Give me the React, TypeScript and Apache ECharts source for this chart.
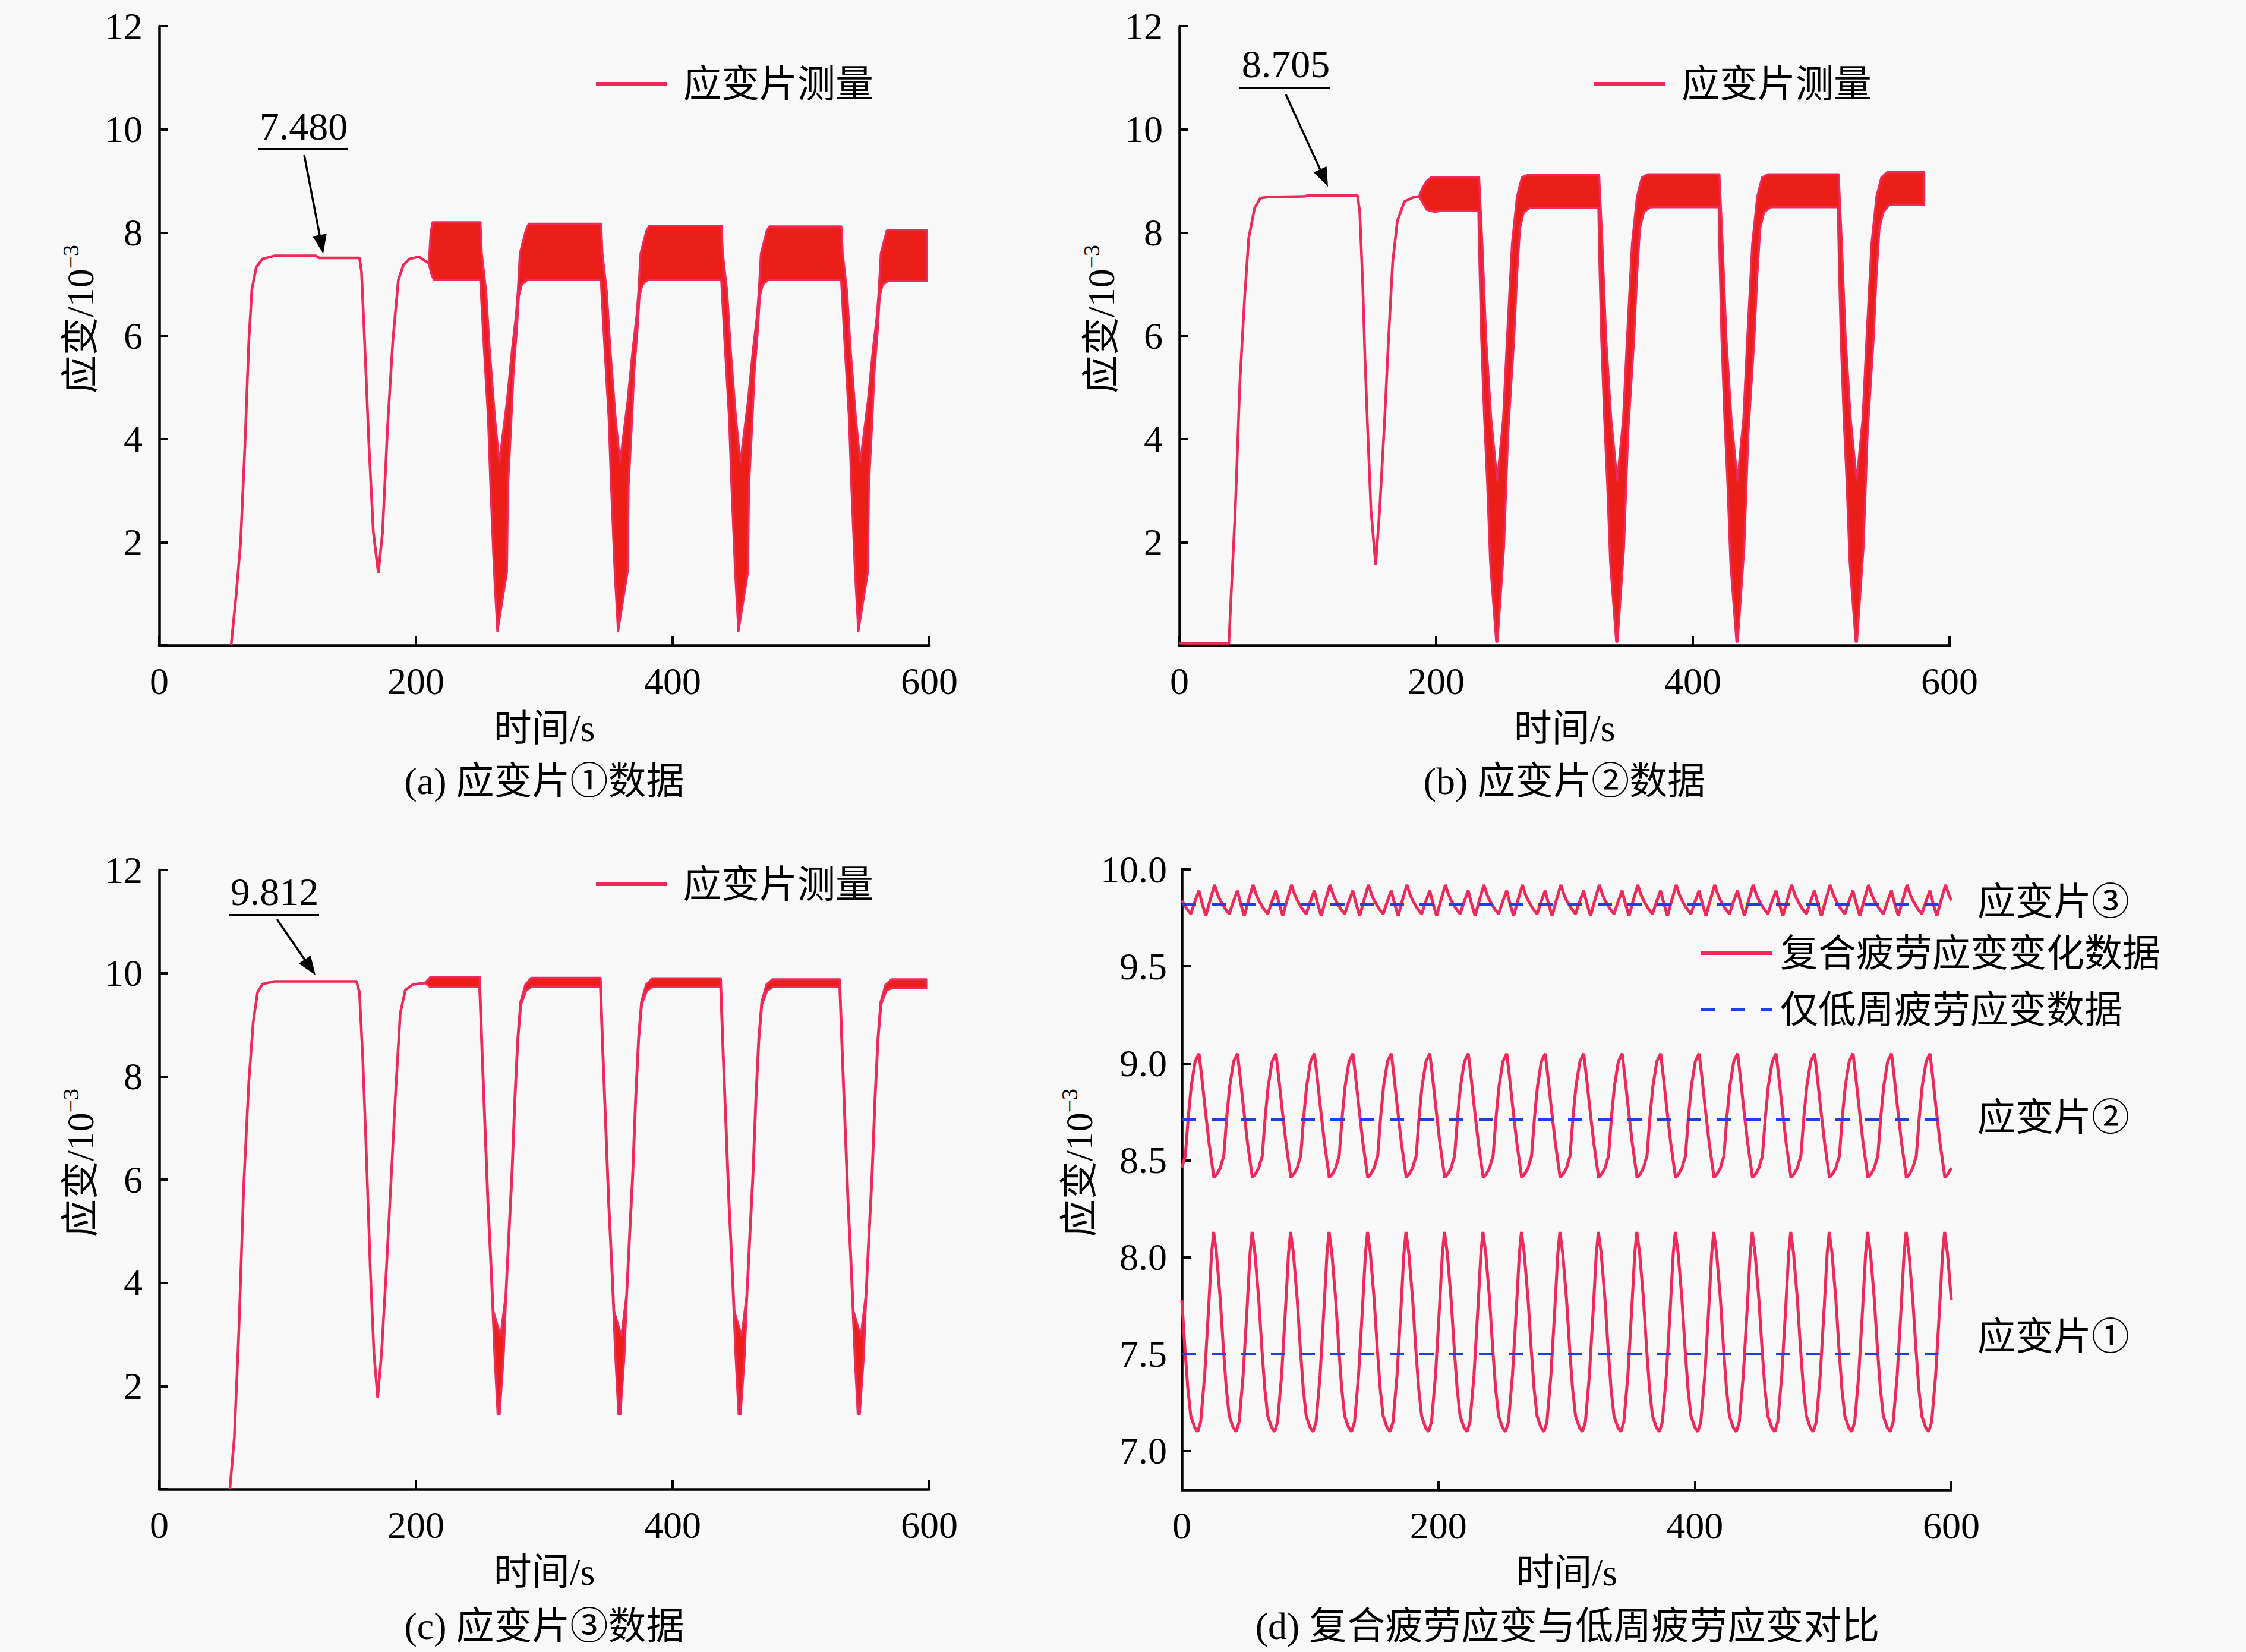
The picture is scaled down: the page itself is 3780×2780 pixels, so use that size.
import React, { useEffect, useRef } from "react";
import * as echarts from "echarts";

const FONT = '"Liberation Serif", "Noto Sans CJK SC", serif';
const LINE_COLOR = "#ee2a5a";
const BAND_COLOR = "#ec1f18";
const DASH_COLOR = "#1d3fe6";
const BG = "#f8f8f8";

// ---------- axes ----------
const xTicks = [0, 200, 400, 600];
const yTicksABC = [0, 2, 4, 6, 8, 10, 12];
const yTicksD = [7.0, 7.5, 8.0, 8.5, 9.0, 9.5, 10.0];

// ---------- panel (a) strain gauge 1 ----------
const aLineT = [56, 60, 63.4, 66.8, 69.8, 72.2, 75.6, 80.5, 90, 122, 124.4, 156, 157.6, 160, 163.4, 166.8, 170.7, 174, 178, 182, 186.3, 190.2, 195, 202.4, 206, 210];
const aLineV = [0, 1.0, 2.0, 3.9, 5.9, 6.9, 7.33, 7.49, 7.55, 7.55, 7.51, 7.51, 7.24, 5.9, 3.87, 2.2, 1.4, 2.2, 4.28, 5.9, 7.08, 7.37, 7.49, 7.53, 7.47, 7.40];
const aHeadUpT = [210, 211.5, 213];
const aHeadUpV = [7.40, 8.0, 8.20];
const aHeadLowT = [210, 212, 214];
const aHeadLowV = [7.40, 7.2, 7.08];
const aSegTop = [8.20, 8.17, 8.13, 8.12, 8.05];
const aSegBot = [7.08, 7.08, 7.08, 7.08, 7.06];
const aDipCenters = [263.8, 357.8, 451.6, 545.0];
const aDipUpDt = [-12.5, -9.1, -6.3, -2.2, 1.2, 7.1, 11, 14.1, 15.6, 17.2, 21.8];
const aDipUpV = [7.6, 6.86, 5.72, 4.40, 3.55, 4.73, 5.72, 6.39, 6.86, 7.6, 8.04];
const aDipLowDt = [-11, -7.6, -5.7, -2.9, -0.3, 7.1, 7.9, 10.2, 12.2, 14.8, 16.4, 18.7];
const aDipLowV = [5.84, 4.40, 3.08, 1.42, 0.27, 1.42, 3.08, 4.18, 5.28, 6.11, 6.77, 6.99];
const aEdges = [-13.5, 24, -13.7, 23]; // upper end, upper restart, lower end, lower restart (s from dip)
const aEnd = 598;

// ---------- panel (b) strain gauge 2 ----------
const bLineT = [0, 38.5, 40.3, 43.5, 47.1, 50.8, 54, 58.6, 63.2, 70, 97.5, 100, 138.7, 140.5, 142.8, 144.5, 146.5, 149.2, 152.9, 156, 159.7, 162.9, 166.1, 169.8, 175.3, 182.2, 186.7];
const bLineV = [0.04, 0.04, 0.99, 2.63, 5.10, 6.75, 7.90, 8.48, 8.67, 8.69, 8.70, 8.72, 8.72, 8.40, 7.00, 5.60, 4.28, 2.63, 1.56, 2.63, 4.28, 5.93, 7.41, 8.23, 8.60, 8.68, 8.70];
const bHeadUpT = [186.7, 189, 192.7, 196];
const bHeadUpV = [8.70, 8.85, 9.0, 9.07];
const bHeadLowT = [186.7, 189, 192.7, 198.6, 205];
const bHeadLowV = [8.70, 8.6, 8.44, 8.40, 8.42];
const bSegTop = [9.07, 9.12, 9.13, 9.13, 9.17];
const bSegBot = [8.42, 8.48, 8.49, 8.49, 8.54];
const bDipCenters = [247.3, 340.8, 434.5, 527.4];
const bDipUpDt = [-11.3, -8.3, -4.4, 0.3, 4.9, 7.9, 11.8, 15.7, 19.5];
const bDipUpV = [7.78, 5.93, 4.39, 3.2, 4.39, 5.93, 7.78, 8.70, 9.07];
const bDipLowDt = [-13.6, -12.1, -9.8, -7.5, -5.2, -0.5, 0.5, 5.6, 8.7, 13.4, 15.7, 18, 21];
const bDipLowV = [7.47, 5.93, 4.39, 3.15, 1.61, 0.07, 0.07, 1.91, 4.07, 5.93, 7.16, 8.08, 8.39];
const bEdges = [-13.8, 24, -14.4, 26];
const bEnd = 580.3;

// ---------- panel (c) strain gauge 3 ----------
const cLineT = [55, 58.5, 62, 65.9, 69.8, 73.2, 76.6, 80.5, 90, 153.7, 156, 158.5, 161, 164.4, 167.3, 170.2, 173.2, 177, 180.5, 183.9, 187.8, 191.7, 197.6, 207];
const cLineV = [0, 1.0, 3.05, 5.93, 7.9, 9.05, 9.63, 9.79, 9.84, 9.84, 9.63, 8.4, 6.75, 4.28, 2.63, 1.77, 2.63, 4.28, 5.93, 7.57, 9.22, 9.67, 9.78, 9.81];
const cHeadUpT = [207, 211];
const cHeadUpV = [9.81, 9.92];
const cHeadLowT = [207, 211];
const cHeadLowV = [9.81, 9.73];
const cSegTop = [9.92, 9.91, 9.90, 9.88, 9.88];
const cSegBot = [9.73, 9.74, 9.73, 9.73, 9.71];
const cDipCenters = [264.4, 358.5, 452.2, 545.0];
const cDipUpDt = [-12.5, -10.2, -7.9, -5.6, -4.0, 1.6, 5.4, 7.7, 10.1, 12.4, 14.7, 17.0, 20.9];
const cDipUpV = [8.44, 6.97, 5.50, 4.33, 3.44, 2.97, 3.74, 4.92, 6.09, 7.56, 8.73, 9.44, 9.78];
const cDipLowDt = [-13.1, -10.8, -8.5, -6.2, -4.6, -3.1, -0.7, 0.8, 3.9, 5.6, 8.3, 10.7, 13.0, 15.3, 17.6, 21.5];
const cDipLowV = [8.44, 6.97, 5.50, 4.33, 3.44, 2.57, 1.45, 1.45, 2.57, 3.6, 4.92, 6.09, 7.56, 8.73, 9.40, 9.66];
const cEdges = [-14.6, 25.5, -15, 26];
const cEnd = 597.6;

// ---------- panel (d) one measured 30 s cycle of each gauge ----------
const dCycles = 20;
const dPeriod = 30;
const g1CycleT = [0, 2.4, 4.7, 7.0, 10.1, 12.4, 14.7, 17.8, 20.9, 23.2, 24.8, 27.0];
const g1CycleV = [7.78, 7.53, 7.32, 7.18, 7.12, 7.10, 7.15, 7.39, 7.74, 8.02, 8.13, 8.02];
const g2CycleT = [0, 1.2, 2.7, 5.0, 7.3, 10.4, 13.4, 15.5, 18.1, 21.2, 25.0, 27.5];
const g2CycleV = [8.46, 8.49, 8.52, 8.72, 8.88, 9.01, 9.05, 8.93, 8.77, 8.59, 8.41, 8.43];
const g3CycleT = [0, 3.5, 7.0, 10.0, 13.3, 16.0, 18.7, 22.0, 25.5, 28.0];
const g3CycleV = [9.84, 9.80, 9.77, 9.83, 9.89, 9.82, 9.76, 9.84, 9.92, 9.87];
const lowCycleLevels = [7.50, 8.71, 9.82];
const lowCycleSpan = [0, 590];

// ---------- helpers ----------
function zip(t: number[], v: number[]) {
  return t.map((x, i) => [x, v[i]]);
}

function buildBand(
  headUpT: number[], headUpV: number[], headLowT: number[], headLowV: number[],
  segTop: number[], segBot: number[], centers: number[],
  upDt: number[], upV: number[], lowDt: number[], lowV: number[],
  edges: number[], tEnd: number
) {
  const up = zip(headUpT, headUpV);
  const lo = zip(headLowT, headLowV);
  const n = centers.length;
  for (let i = 0; i <= n; i++) {
    if (i > 0) {
      const c = centers[i - 1];
      up.push([c + edges[1], segTop[i]]);
      lo.push([c + edges[3], segBot[i]]);
    }
    if (i < n) {
      const c = centers[i];
      up.push([c + edges[0], segTop[i]]);
      lo.push([c + edges[2], segBot[i]]);
      upDt.forEach((d, k) => up.push([c + d, upV[k]]));
      lowDt.forEach((d, k) => lo.push([c + d, lowV[k]]));
    } else {
      up.push([tEnd, segTop[n]]);
      lo.push([tEnd, segBot[n]]);
    }
  }
  return { up, lo };
}

function repeatCycle(T: number[], V: number[]) {
  const out: number[][] = [];
  for (let k = 0; k < dCycles; k++) T.forEach((t, i) => out.push([k * dPeriod + t, V[i]]));
  out.push([dCycles * dPeriod, V[0]]);
  return out;
}

function txt(x: number, y: number, text: string, align = "center", size = 64) {
  return {
    type: "text",
    x,
    y,
    silent: true,
    style: {
      text,
      fontSize: size,
      fontFamily: FONT,
      fill: "#000",
      align,
      verticalAlign: "middle",
      textAlign: align,
      textVerticalAlign: "middle",
    },
  };
}

function arrow(x1: number, y1: number, x2: number, y2: number) {
  const dx = x2 - x1, dy = y2 - y1;
  const len = Math.hypot(dx, dy);
  const ux = dx / len, uy = dy / len;
  const hl = 32, hw = 12;
  const bx = x2 - ux * hl, by = y2 - uy * hl;
  return [
    { type: "line", silent: true, shape: { x1, y1, x2: bx, y2: by }, style: { stroke: "#000", lineWidth: 3.5 } },
    {
      type: "polygon",
      silent: true,
      shape: { points: [[x2, y2], [bx - uy * hw, by + ux * hw], [bx + uy * hw, by - ux * hw]] },
      style: { fill: "#000" },
    },
  ];
}

function annotation(label: string, cx: number, cy: number, ulx1: number, ulx2: number, uly: number, ax1: number, ay1: number, ax2: number, ay2: number) {
  return [
    txt(cx, cy, label, "center", 66),
    { type: "line", silent: true, shape: { x1: ulx1, y1: uly, x2: ulx2, y2: uly }, style: { stroke: "#000", lineWidth: 4 } },
    ...arrow(ax1, ay1, ax2, ay2),
  ];
}

const axisLineStyle = { color: "#000", width: 4.5 };
const labelStyle = { fontSize: 64, fontFamily: FONT, color: "#000" };
const yName = "{a|应变/10}{b|−3}";
const yNameStyle = {
  color: "#000",
  fontFamily: FONT,
  padding: [0, 0, 0, 56],
  rich: {
    a: { fontSize: 64, fontFamily: FONT, lineHeight: 70, color: "#000" },
    b: { fontSize: 38, fontFamily: FONT, lineHeight: 38, verticalAlign: "top", color: "#000" },
  },
};

function xAxisCfg(gridIndex: number) {
  return {
    type: "value",
    gridIndex,
    min: xTicks[0],
    max: xTicks[xTicks.length - 1],
    interval: xTicks[1] - xTicks[0],
    name: "时间/s",
    nameLocation: "middle",
    nameGap: 104,
    nameTextStyle: { ...labelStyle, lineHeight: 70 },
    axisLine: { lineStyle: axisLineStyle },
    axisTick: { inside: true, length: 15, lineStyle: { color: "#000", width: 4 } },
    axisLabel: { ...labelStyle, margin: 28 },
    splitLine: { show: false },
  };
}

function yAxisCfgABC(gridIndex: number, nameGap: number) {
  return {
    type: "value",
    gridIndex,
    min: yTicksABC[0],
    max: yTicksABC[yTicksABC.length - 1],
    interval: yTicksABC[1] - yTicksABC[0],
    name: yName,
    nameLocation: "middle",
    nameGap,
    nameTextStyle: yNameStyle,
    axisLine: { lineStyle: axisLineStyle },
    axisTick: { inside: true, length: 15, lineStyle: { color: "#000", width: 4 } },
    axisLabel: { ...labelStyle, margin: 28, formatter: (v: number) => (v === 0 ? "" : String(v)) },
    splitLine: { show: false },
  };
}

function bandSeries(idx: number, band: { up: number[][]; lo: number[][] }) {
  return {
    type: "custom",
    xAxisIndex: idx,
    yAxisIndex: idx,
    silent: true,
    z: 2,
    data: [[300, 6]],
    encode: { x: 0, y: 1 },
    renderItem: (_params: any, api: any) => {
      const pts = band.up.map((p) => api.coord(p)).concat(band.lo.slice().reverse().map((p) => api.coord(p)));
      return {
        type: "polygon",
        shape: { points: pts },
        style: { fill: BAND_COLOR, stroke: LINE_COLOR, lineWidth: 3.5, lineJoin: "round" },
      };
    },
  };
}

function lineSeries(idx: number, name: string, data: number[][], width = 4.5) {
  return {
    type: "line",
    name,
    xAxisIndex: idx,
    yAxisIndex: idx,
    data,
    symbol: "none",
    showSymbol: false,
    z: 3,
    lineStyle: { color: LINE_COLOR, width },
    itemStyle: { color: LINE_COLOR },
  };
}

function buildOption() {
  const aBand = buildBand(aHeadUpT, aHeadUpV, aHeadLowT, aHeadLowV, aSegTop, aSegBot, aDipCenters, aDipUpDt, aDipUpV, aDipLowDt, aDipLowV, aEdges, aEnd);
  const bBand = buildBand(bHeadUpT, bHeadUpV, bHeadLowT, bHeadLowV, bSegTop, bSegBot, bDipCenters, bDipUpDt, bDipUpV, bDipLowDt, bDipLowV, bEdges, bEnd);
  const cBand = buildBand(cHeadUpT, cHeadUpV, cHeadLowT, cHeadLowV, cSegTop, cSegBot, cDipCenters, cDipUpDt, cDipUpV, cDipLowDt, cDipLowV, cEdges, cEnd);

  const measName = "应变片测量";
  const compName = "复合疲劳应变变化数据";
  const lowName = "仅低周疲劳应变数据";

  const legendText = { ...labelStyle, lineHeight: 70 };
  const legendCommon = {
    padding: 0,
    itemHeight: 20,
    itemStyle: { opacity: 0, borderWidth: 0 },
    lineStyle: { width: 6 },
  };

  return {
    animation: false,
    backgroundColor: BG,
    textStyle: { fontFamily: FONT },
    grid: [
      { left: 268, top: 44, width: 1296, height: 1042 },
      { left: 1985, top: 44, width: 1296, height: 1042 },
      { left: 268, top: 1464, width: 1296, height: 1042 },
      { left: 1989, top: 1463, width: 1295, height: 1044 },
    ],
    xAxis: [xAxisCfg(0), xAxisCfg(1), xAxisCfg(2), xAxisCfg(3)],
    yAxis: [
      yAxisCfgABC(0, 98),
      yAxisCfgABC(1, 97),
      yAxisCfgABC(2, 98),
      {
        type: "value",
        gridIndex: 3,
        min: 6.8,
        max: 10,
        name: yName,
        nameLocation: "middle",
        nameGap: 129,
        nameTextStyle: yNameStyle,
        axisLine: { lineStyle: axisLineStyle },
        axisTick: { inside: true, length: 15, customValues: yTicksD, lineStyle: { color: "#000", width: 4 } },
        axisLabel: { ...labelStyle, margin: 25, customValues: yTicksD, formatter: (v: number) => v.toFixed(1) },
        splitLine: { show: false },
      },
    ],
    legend: [
      { ...legendCommon, data: [measName], left: 1000, top: 106, itemWidth: 119, textStyle: { ...legendText, padding: [0, 0, 0, 23] } },
      { ...legendCommon, data: [measName], left: 2680, top: 106, itemWidth: 119, textStyle: { ...legendText, padding: [0, 0, 0, 23] } },
      { ...legendCommon, data: [measName], left: 1000, top: 1453, itemWidth: 119, textStyle: { ...legendText, padding: [0, 0, 0, 23] } },
      {
        ...legendCommon,
        data: [compName, lowName],
        orient: "vertical",
        left: 2860,
        top: 1569,
        itemGap: 25,
        itemWidth: 120,
        textStyle: { ...legendText, padding: [0, 0, 0, 8] },
      },
    ],
    series: [
      bandSeries(0, aBand),
      lineSeries(0, measName, zip(aLineT, aLineV)),
      bandSeries(1, bBand),
      lineSeries(1, measName, zip(bLineT, bLineV)),
      bandSeries(2, cBand),
      lineSeries(2, measName, zip(cLineT, cLineV)),
      lineSeries(3, compName, repeatCycle(g1CycleT, g1CycleV), 5),
      lineSeries(3, compName, repeatCycle(g2CycleT, g2CycleV), 5),
      lineSeries(3, compName, repeatCycle(g3CycleT, g3CycleV), 5),
      ...lowCycleLevels.map((lv) => ({
        type: "line",
        name: lowName,
        xAxisIndex: 3,
        yAxisIndex: 3,
        data: lowCycleSpan.map((t) => [t, lv]),
        symbol: "none",
        showSymbol: false,
        z: 4,
        lineStyle: { color: DASH_COLOR, width: 4.5, type: [24, 26] },
        itemStyle: { color: DASH_COLOR },
      })),
    ],
    graphic: [
      ...annotation("7.480", 511, 212, 435, 586, 251, 512, 261, 544, 427),
      ...annotation("8.705", 2164, 107, 2086, 2238, 148, 2164, 159, 2235, 314),
      ...annotation("9.812", 462, 1500, 385, 537, 1540, 466, 1547, 531, 1641),
      txt(916, 1314, "(a) 应变片①数据"),
      txt(2633, 1314, "(b) 应变片②数据"),
      txt(916, 2736, "(c) 应变片③数据"),
      txt(2638, 2736, "(d) 复合疲劳应变与低周疲劳应变对比"),
      txt(3328, 1517, "应变片③", "left"),
      txt(3328, 1880, "应变片②", "left"),
      txt(3328, 2249, "应变片①", "left"),
    ],
  };
}

export default function App() {
  const ref = useRef<HTMLDivElement>(null);
  useEffect(() => {
    document.body.style.margin = "0";
    document.body.style.background = BG;
    const chart = echarts.init(ref.current as HTMLDivElement, null, { renderer: "svg", width: 3780, height: 2780 });
    chart.setOption(buildOption() as any);
    return () => chart.dispose();
  }, []);
  return <div ref={ref} style={{ width: 3780, height: 2780 }} />;
}
